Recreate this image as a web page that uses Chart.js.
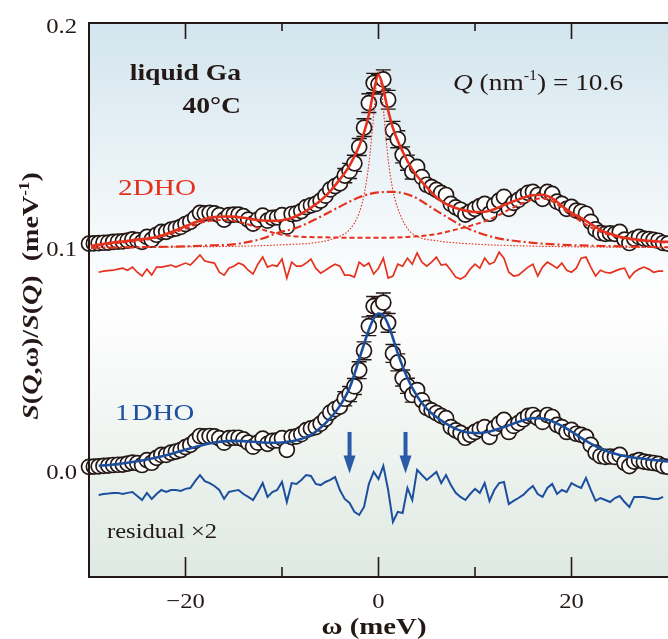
<!DOCTYPE html>
<html>
<head>
<meta charset="utf-8">
<script src="https://cdn.jsdelivr.net/npm/chart.js@4.4.1/dist/chart.umd.min.js"></script>
<style>
html, body { margin: 0; padding: 0; background: #fff; }
</style>
</head>
<body>
<canvas id="sqw-chart" width="668" height="639"></canvas>
<script>
// energy transfer grid of the measured points (meV)
const omega = [
	-30, -29.5, -29, -28.5, -28, -27.5, -27, -26.5, -26, -25.5,
	-25, -24.5, -24, -23.5, -23, -22.5, -22, -21.5, -21, -20.5,
	-20, -19.5, -19, -18.5, -18, -17.5, -17, -16.5, -16, -15.5,
	-15, -14.5, -14, -13.5, -13, -12.5, -12, -11.5, -11, -10.5,
	-10, -9.5, -9, -8.5, -8, -7.5, -7, -6.5, -6, -5.5,
	-5, -4.5, -4, -3.5, -3, -2.5, -2, -1.5, -1, -0.5,
	0,
	0.5, 1, 1.5, 2, 2.5, 3, 3.5, 4, 4.5, 5,
	5.5, 6, 6.5, 7, 7.5, 8, 8.5, 9, 9.5, 10,
	10.5, 11, 11.5, 12, 12.5, 13, 13.5, 14, 14.5, 15,
	15.5, 16, 16.5, 17, 17.5, 18, 18.5, 19, 19.5, 20,
	20.5, 21, 21.5, 22, 22.5, 23, 23.5, 24, 24.5, 25,
	25.5, 26, 26.5, 27, 27.5, 28, 28.5, 29, 29.5, 30
];
// S(Q,w)/S(Q), lower set (the 2DHO set is the same data shifted by 0.1)
const sqw = [
	0.0022, 0.0023, 0.0024, 0.0026, 0.0027, 0.0030, 0.0031, 0.0032, 0.0036, 0.0041,
	0.0038, 0.0030, 0.0052, 0.0040, 0.0062, 0.0075, 0.0075, 0.0085, 0.0090, 0.0097,
	0.0110, 0.0120, 0.0138, 0.0160, 0.0158, 0.0160, 0.0158, 0.0150, 0.0130, 0.0150,
	0.0152, 0.0152, 0.0145, 0.0130, 0.0112, 0.0130, 0.0148, 0.0125, 0.0138, 0.0140,
	0.0150, 0.0098, 0.0155, 0.0158, 0.0168, 0.0186, 0.0194, 0.0200, 0.0215, 0.0237,
	0.0265, 0.0280, 0.0292, 0.0327, 0.0348, 0.0382, 0.0455, 0.0542, 0.0652, 0.0742,
	0.0736,
	0.0758, 0.0667, 0.0530, 0.0490, 0.0420, 0.0385, 0.0344, 0.0366, 0.0320, 0.0286,
	0.0275, 0.0263, 0.0250, 0.0240, 0.0200, 0.0185, 0.0174, 0.0152, 0.0165, 0.0178,
	0.0190, 0.0200, 0.0156, 0.0195, 0.0215, 0.0232, 0.0178, 0.0205, 0.0218, 0.0235,
	0.0250, 0.0254, 0.0240, 0.0223, 0.0254, 0.0245, 0.0210, 0.0200, 0.0178, 0.0187,
	0.0170, 0.0165, 0.0156, 0.0120, 0.0086, 0.0070, 0.0066, 0.0068, 0.0066, 0.0075,
	0.0040, 0.0025, 0.0045, 0.0052, 0.0045, 0.0042, 0.0039, 0.0035, 0.0025, 0.0022
];
// error bars drawn only where they stick out of the circles (-3.5 ... 3.5 meV)
const errOmega = [-3.5, -3, -2.5, -2, -1.5, -1, -0.5, 0, 0.5, 1, 1.5, 2, 2.5, 3, 3.5];
const errHalf = [0.0032, 0.0034, 0.0036, 0.0038, 0.0040, 0.0042, 0.0043, 0.0043, 0.0043, 0.0042, 0.0040, 0.0038, 0.0036, 0.0034, 0.0032];

// residuals x2 (from -29 to 29.5 meV)
const residOmega = omega.slice(2, 120);
const resid2DHO = [
	0.0004, 0.0009, 0.0011, 0.0013, 0.0018, 0.0022, 0.0013, 0.0027,
	0.0004, -0.0013, 0.0018, -0.0009, 0.0027, 0.0027, 0.0031, 0.0036, 0.0027, 0.0036,
	0.0045, 0.0036, 0.0058, 0.0081, 0.0054, 0.0049, 0.0045, 0.0004, -0.0009, 0.0022,
	0.0031, 0.0045, 0.0036, 0.0013, -0.0004, 0.0040, 0.0072, 0.0027, 0.0036, 0.0031,
	0.0063, -0.0022, 0.0049, 0.0031, 0.0031, 0.0045, 0.0063, 0.0022, 0.0000, 0.0013,
	0.0027, 0.0040, 0.0031, -0.0009, -0.0009, -0.0018, 0.0049, 0.0031, 0.0045, -0.0004,
	0.0022,
	0.0067, -0.0022, -0.0013, 0.0040, 0.0031, 0.0067, 0.0040, 0.0090, 0.0049, 0.0031,
	0.0049, 0.0072, 0.0036, 0.0040, 0.0013, -0.0018, -0.0027, -0.0013, 0.0018, 0.0040,
	0.0022, 0.0067, 0.0040, 0.0049, 0.0094, 0.0067, 0.0004, -0.0013, -0.0009, 0.0009,
	0.0027, 0.0040, -0.0013, 0.0027, 0.0049, 0.0036, 0.0022, 0.0045, 0.0013, 0.0004,
	0.0022, 0.0067, 0.0072, 0.0027, -0.0013, 0.0013, 0.0004, 0.0000, 0.0009, 0.0018,
	0.0022, -0.0022, 0.0004, 0.0018, 0.0027, 0.0018, 0.0004, 0.0009, 0.0009
];
const resid1DHO = [
	0.0016, 0.0020, 0.0022, 0.0025, 0.0025, 0.0020, 0.0025, 0.0029,
	0.0011, -0.0007, 0.0025, -0.0002, 0.0020, 0.0038, 0.0029, 0.0038, 0.0038, 0.0034,
	0.0043, 0.0047, 0.0078, 0.0105, 0.0078, 0.0069, 0.0056, 0.0038, -0.0002, 0.0029,
	0.0034, 0.0038, 0.0020, 0.0007, -0.0007, 0.0029, 0.0069, 0.0007, 0.0029, 0.0038,
	0.0074, -0.0016, 0.0069, 0.0065, 0.0083, 0.0105, 0.0101, 0.0065, 0.0060, 0.0074,
	0.0083, 0.0096, 0.0038, -0.0002, -0.0020, -0.0060, -0.0074, -0.0038, 0.0065, 0.0119,
	0.0087,
	0.0146, 0.0038, -0.0105, -0.0060, -0.0065, 0.0047, -0.0007, 0.0128, 0.0105, 0.0083,
	0.0101, 0.0119, 0.0069, 0.0105, 0.0060, 0.0025, 0.0007, -0.0007, 0.0020, 0.0043,
	0.0025, 0.0069, -0.0011, 0.0038, 0.0069, 0.0074, -0.0025, -0.0011, 0.0002, 0.0016,
	0.0038, 0.0056, 0.0020, 0.0007, 0.0047, 0.0065, 0.0020, 0.0038, 0.0029, 0.0069,
	0.0056, 0.0047, 0.0092, 0.0038, -0.0011, 0.0002, -0.0007, -0.0016, 0.0002, 0.0011,
	-0.0016, -0.0038, 0.0007, 0.0007, 0.0007, 0.0002, -0.0002, -0.0002, 0.0007
];

// 1DHO fit
const fit1Omega = [
	-29, -28, -27, -26, -25, -24, -23, -22, -21, -20, -19, -18, -17, -16, -15, -14,
	-13, -12, -11, -10, -9, -8, -7, -6, -5, -4, -3, -2, -1.5, -1, -0.5, 0,
	0.5, 1, 1.5, 2, 3, 4, 5, 6, 7, 8, 9, 10, 11, 12, 13, 14,
	15, 16, 17, 18, 19, 20, 21, 22, 23, 24, 25, 26, 27, 28, 29, 30
];
const fit1DHO = [
	0.0026, 0.0030, 0.0034, 0.0040, 0.0047, 0.0055, 0.0064, 0.0074, 0.0086, 0.0098, 0.0111, 0.0122, 0.0131, 0.0136, 0.0138, 0.0137,
	0.0134, 0.0131, 0.0130, 0.0131, 0.0136, 0.0147, 0.0165, 0.0197, 0.0240, 0.0295, 0.0375, 0.0505, 0.0572, 0.0636, 0.0686, 0.0709,
	0.0700, 0.0660, 0.0598, 0.0530, 0.0420, 0.0338, 0.0282, 0.0245, 0.0215, 0.0192, 0.0178, 0.0173, 0.0176, 0.0186, 0.0200, 0.0216,
	0.0231, 0.0240, 0.0238, 0.0226, 0.0205, 0.0180, 0.0152, 0.0126, 0.0104, 0.0087, 0.0075, 0.0066, 0.0060, 0.0055, 0.0050, 0.0046
];

// 2DHO fit and its three components (relative to the 0.1 offset)
const fit2Omega = [
	-29.8, -27, -25, -23, -21, -20, -19, -18, -17, -16, -15, -14, -13, -12, -11, -10,
	-9, -8, -7, -6, -5, -4, -3, -2, -1.5, -1, -0.5, 0, 0.4, 0.8, 1.5, 2.5,
	3.5, 5, 6, 7, 8, 9, 10, 11, 12, 13, 14, 15, 16, 17, 18, 19,
	20, 21, 22, 23, 24, 25, 26, 27, 28, 29, 30
];
const fit2DHO = [
	0.0012, 0.0030, 0.0040, 0.0052, 0.0082, 0.0100, 0.0118, 0.0133, 0.0141, 0.0144, 0.0143, 0.0138, 0.0131, 0.0126, 0.0124, 0.0127,
	0.0137, 0.0156, 0.0183, 0.0215, 0.0258, 0.0310, 0.0372, 0.0460, 0.0520, 0.0600, 0.0705, 0.0778, 0.0735, 0.0655, 0.0540, 0.0435,
	0.0355, 0.0275, 0.0230, 0.0200, 0.0182, 0.0170, 0.0164, 0.0165, 0.0176, 0.0195, 0.0212, 0.0228, 0.0239, 0.0241, 0.0225, 0.0192,
	0.0160, 0.0138, 0.0110, 0.0084, 0.0066, 0.0053, 0.0045, 0.0039, 0.0035, 0.0032, 0.0030
];
const centralOmega = [-29.8, -25, -20, -15, -10, -6, -4, -3, -2, -1.5, -1, -0.6, -0.3, 0, 0.3, 0.6, 1, 1.5, 2, 3, 4, 6, 10, 15, 20, 25, 30];
const centralLor = [0.0005, 0.0006, 0.0008, 0.0010, 0.0017, 0.0030, 0.0055, 0.0085, 0.0160, 0.0240, 0.0380, 0.0550, 0.0700, 0.0800, 0.0720, 0.0580, 0.0400, 0.0260, 0.0180, 0.0090, 0.0055, 0.0035, 0.0020, 0.0012, 0.0008, 0.0006, 0.0005];
const broadOmega = [-29.8, -25, -20, -17, -15.5, -14, -12, -10.5, -8.5, -6, -4, -2, 0, 1.5, 3.5, 6, 9, 12, 15.5, 19, 24, 30];
const broadDHO = [0.0003, 0.0006, 0.0010, 0.0015, 0.0017, 0.0025, 0.0045, 0.0070, 0.0093, 0.0143, 0.0188, 0.0230, 0.0252, 0.0254, 0.0235, 0.0170, 0.0095, 0.0050, 0.0028, 0.0017, 0.0011, 0.0006];
const sideOmega = [-29.8, -27, -24, -22, -20, -18, -16, -14, -12, -10, -8, -5, -2, 0, 3, 6, 8, 10, 12, 14, 16, 17, 18, 20, 22, 24, 26, 28, 30];
const sideDHO = [0.0010, 0.0025, 0.0040, 0.0060, 0.0090, 0.0120, 0.0128, 0.0115, 0.0085, 0.0062, 0.0053, 0.0050, 0.0048, 0.0048, 0.0052, 0.0065, 0.0085, 0.0108, 0.0140, 0.0185, 0.0220, 0.0225, 0.0212, 0.0150, 0.0095, 0.0060, 0.0042, 0.0032, 0.0026];

const offset2DHO = 0.1;
const residOffset2DHO = 0.089;
const residOffset1DHO = -0.012;

const xTicks = [-20, 0, 20];
const xTickLabels = ['\u221220', '0', '20'];
const xMinorTicks = [-10, 10];
const yTicks = [0, 0.1, 0.2];
const yTickLabels = ['0.0', '0.1', '0.2'];
const arrowOmega = [-3.0, 2.8];
const arrowTop = 0.0178;
const arrowTip = -0.0008;

const RED = '#e5321f';
const BLUE = '#1c4f9d';
const INK = '#231815';
const SERIF = '"Liberation Serif", "Times New Roman", serif';

function pts(xs, ys, off) {
	return xs.map((x, i) => ({ x: x, y: ys[i] + off }));
}

function drawRuns(ctx, runs, x, y, align, stretch) {
	let w = 0;
	runs.forEach(r => { ctx.font = r.f; w += ctx.measureText(r.t).width; });
	ctx.save();
	ctx.translate(x, y);
	ctx.scale(stretch, 1);
	let cx = align === 'center' ? -w / 2 : (align === 'right' ? -w : 0);
	ctx.textAlign = 'left';
	ctx.textBaseline = 'alphabetic';
	runs.forEach(r => {
		ctx.font = r.f;
		ctx.fillText(r.t, cx, r.dy || 0);
		cx += ctx.measureText(r.t).width;
	});
	ctx.restore();
}

const figurePlugin = {
	id: 'figure',
	beforeDraw(chart) {
		const ctx = chart.ctx;
		const a = chart.chartArea;
		const g = ctx.createLinearGradient(0, a.top, 0, a.bottom);
		g.addColorStop(0, '#d3e5ee');
		g.addColorStop(0.42, '#f8fbfc');
		g.addColorStop(0.5, '#ffffff');
		g.addColorStop(1, '#dfe9e3');
		ctx.save();
		ctx.fillStyle = g;
		ctx.fillRect(a.left, a.top, a.right - a.left, a.bottom - a.top);
		ctx.restore();
	},
	beforeDatasetDraw(chart, args) {
		const ds = chart.data.datasets[args.index];
		if (ds.errOffset === undefined) return;
		const ctx = chart.ctx;
		const xs = chart.scales.x, ys = chart.scales.y;
		ctx.save();
		ctx.strokeStyle = INK;
		ctx.lineWidth = 1.4;
		errOmega.forEach((w, i) => {
			const k = omega.indexOf(w);
			const v = sqw[k] + ds.errOffset;
			const px = xs.getPixelForValue(w);
			const y1 = ys.getPixelForValue(v + errHalf[i]);
			const y2 = ys.getPixelForValue(v - errHalf[i]);
			ctx.beginPath();
			ctx.moveTo(px, y1); ctx.lineTo(px, y2);
			ctx.moveTo(px - 7.5, y1); ctx.lineTo(px + 7.5, y1);
			ctx.moveTo(px - 7.5, y2); ctx.lineTo(px + 7.5, y2);
			ctx.stroke();
		});
		ctx.restore();
	},
	afterDraw(chart) {
		const ctx = chart.ctx;
		const a = chart.chartArea;
		const xs = chart.scales.x, ys = chart.scales.y;
		ctx.save();
		// frame
		ctx.strokeStyle = INK;
		ctx.lineWidth = 2;
		ctx.beginPath();
		ctx.moveTo(a.right, a.top); ctx.lineTo(a.left, a.top); ctx.lineTo(a.left, a.bottom); ctx.lineTo(a.right, a.bottom);
		ctx.stroke();
		ctx.lineWidth = 1.6;
		ctx.beginPath();
		xTicks.forEach(v => {
			const px = xs.getPixelForValue(v);
			ctx.moveTo(px, a.top); ctx.lineTo(px, a.top + 16);
			ctx.moveTo(px, a.bottom); ctx.lineTo(px, a.bottom - 20);
		});
		xMinorTicks.forEach(v => {
			const px = xs.getPixelForValue(v);
			ctx.moveTo(px, a.top); ctx.lineTo(px, a.top + 8);
			ctx.moveTo(px, a.bottom); ctx.lineTo(px, a.bottom - 10);
		});
		ctx.stroke();

		// tick labels
		ctx.fillStyle = INK;
		xTicks.forEach((v, i) => {
			drawRuns(ctx, [{ t: xTickLabels[i], f: '22px ' + SERIF }], xs.getPixelForValue(v), 608, 'center', 1.12);
		});
		yTicks.forEach((v, i) => {
			drawRuns(ctx, [{ t: yTickLabels[i], f: '22px ' + SERIF }], 77, ys.getPixelForValue(v) + 7.5, 'right', 1.12);
		});

		// axis titles
		drawRuns(ctx, [{ t: '\u03c9 (meV)', f: 'bold 24px ' + SERIF }], 374, 634, 'center', 1.2);
		ctx.save();
		ctx.translate(38, 296);
		ctx.rotate(-Math.PI / 2);
		const b = 'bold 23px ' + SERIF, bi = 'bold italic 23px ' + SERIF;
		drawRuns(ctx, [
			{ t: 'S', f: bi }, { t: '(', f: b }, { t: 'Q', f: bi }, { t: ',\u03c9)/', f: b },
			{ t: 'S', f: bi }, { t: '(', f: b }, { t: 'Q', f: bi }, { t: ')  (meV', f: b },
			{ t: '-1', f: 'bold 14px ' + SERIF, dy: -9 }, { t: ')', f: b }
		], 0, 0, 'center', 1.22);
		ctx.restore();

		// annotations
		drawRuns(ctx, [{ t: 'liquid Ga', f: 'bold 24px ' + SERIF }], 241, 80, 'right', 1.15);
		drawRuns(ctx, [{ t: '40\u00b0C', f: 'bold 24px ' + SERIF }], 241, 113, 'right', 1.15);
		drawRuns(ctx, [
			{ t: 'Q', f: 'italic 24px ' + SERIF }, { t: ' (nm', f: '24px ' + SERIF },
			{ t: '-1', f: '14px ' + SERIF, dy: -10 }, { t: ') = 10.6', f: '24px ' + SERIF }
		], 453, 90, 'left', 1.14);
		ctx.fillStyle = RED;
		drawRuns(ctx, [{ t: '2DHO', f: '24px ' + SERIF }], 118, 195, 'left', 1.22);
		ctx.fillStyle = BLUE;
		drawRuns(ctx, [{ t: '1', f: '24px ' + SERIF }, { t: ' ', f: '8px ' + SERIF }, { t: 'DHO', f: '24px ' + SERIF }], 115, 420, 'left', 1.2);
		ctx.fillStyle = INK;
		drawRuns(ctx, [{ t: 'residual \u00d72', f: '21px ' + SERIF }], 107, 538, 'left', 1.17);

		// arrows
		ctx.fillStyle = '#2a5aa8';
		arrowOmega.forEach(w => {
			const px = xs.getPixelForValue(w);
			const top = ys.getPixelForValue(arrowTop);
			const tip = ys.getPixelForValue(arrowTip);
			const neck = tip - 18;
			ctx.fillRect(px - 2, top, 4, neck - top + 1);
			ctx.beginPath();
			ctx.moveTo(px - 6, neck); ctx.lineTo(px + 6, neck); ctx.lineTo(px, tip);
			ctx.closePath();
			ctx.fill();
		});
		ctx.restore();
	}
};

const lineBase = { showLine: true, pointRadius: 0, fill: false, order: 1, clip: false };
const dataPoints2 = omega.map((w, i) => ({ x: w, y: sqw[i] + offset2DHO }));
const dataPoints1 = omega.map((w, i) => ({ x: w, y: sqw[i] }));

new Chart(
	document.getElementById('sqw-chart'),
	{
		type: 'scatter',
		data: {
			datasets: [
				Object.assign({}, lineBase, {
					label: '2DHO fit',
					data: pts(fit2Omega, fit2DHO, offset2DHO),
					borderColor: RED,
					borderWidth: 2.6,
					cubicInterpolationMode: 'monotone',
				}),
				Object.assign({}, lineBase, {
					label: 'central',
					data: pts(centralOmega, centralLor, offset2DHO),
					borderColor: RED,
					borderWidth: 1.1,
					borderDash: [1.6, 1.6],
					cubicInterpolationMode: 'monotone',
				}),
				Object.assign({}, lineBase, {
					label: 'broad DHO',
					data: pts(broadOmega, broadDHO, offset2DHO),
					borderColor: RED,
					borderWidth: 2.2,
					borderDash: [9, 3, 2, 3],
					cubicInterpolationMode: 'monotone',
				}),
				Object.assign({}, lineBase, {
					label: 'side DHO',
					data: pts(sideOmega, sideDHO, offset2DHO),
					borderColor: RED,
					borderWidth: 2,
					borderDash: [5, 3],
					cubicInterpolationMode: 'monotone',
				}),
				Object.assign({}, lineBase, {
					label: '1DHO fit',
					data: pts(fit1Omega, fit1DHO, 0),
					borderColor: BLUE,
					borderWidth: 2.6,
					cubicInterpolationMode: 'monotone',
				}),
				Object.assign({}, lineBase, {
					label: 'residual 2DHO',
					data: pts(residOmega, resid2DHO, residOffset2DHO),
					borderColor: RED,
					borderWidth: 1.7,
					tension: 0,
					order: 2,
				}),
				Object.assign({}, lineBase, {
					label: 'residual 1DHO',
					data: pts(residOmega, resid1DHO, residOffset1DHO),
					borderColor: BLUE,
					borderWidth: 2,
					tension: 0,
					order: 2,
				}),
				{
					label: 'data 2DHO',
					data: dataPoints2,
					showLine: false,
					pointRadius: 7.5,
					pointBackgroundColor: '#ffffff',
					pointBorderColor: INK,
					pointBorderWidth: 1.7,
					errOffset: offset2DHO,
					order: 5,
					clip: false,
				},
				{
					label: 'data 1DHO',
					data: dataPoints1,
					showLine: false,
					pointRadius: 7.5,
					pointBackgroundColor: '#ffffff',
					pointBorderColor: INK,
					pointBorderWidth: 1.7,
					errOffset: 0,
					order: 5,
					clip: false,
				},
			]
		},
		options: {
			responsive: false,
			animation: false,
			layout: {
				autoPadding: false,
				padding: { left: 89, top: 23, right: 0, bottom: 62 },
			},
			plugins: {
				legend: { display: false },
				tooltip: { enabled: false },
			},
			scales: {
				x: { type: 'linear', min: -30, max: 30, display: false },
				y: { type: 'linear', min: -0.0472, max: 0.2011, display: false },
			}
		},
		plugins: [figurePlugin]
	}
);
</script>
</body>
</html>
